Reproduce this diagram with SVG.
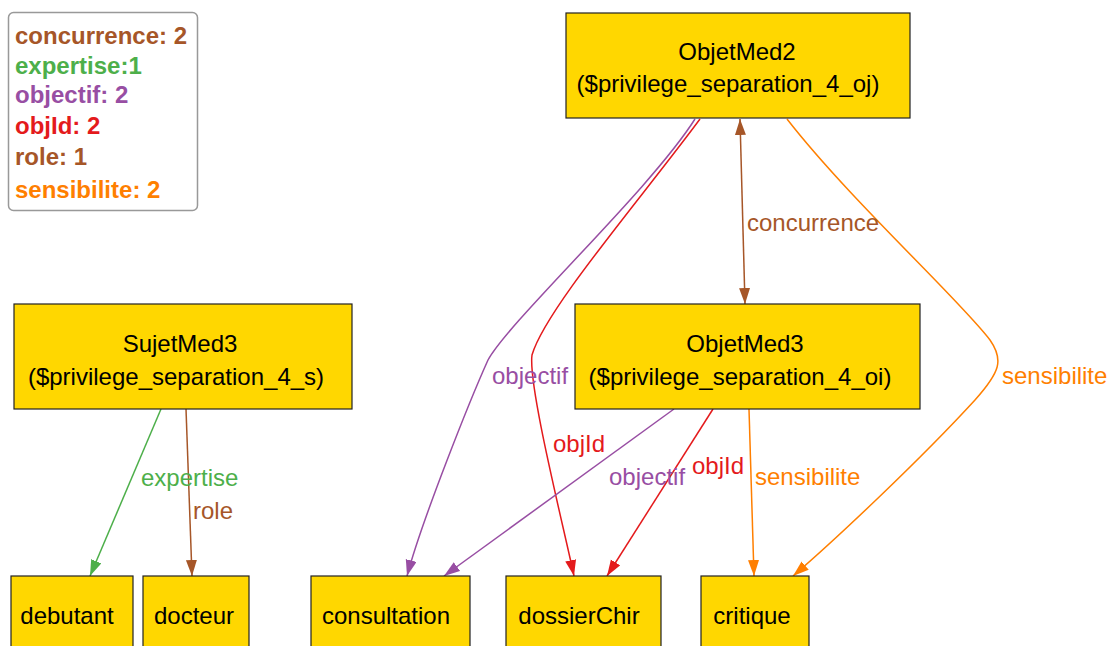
<svg xmlns="http://www.w3.org/2000/svg" width="1109" height="646" viewBox="0 0 1109 646">
<style>
text{font-family:"Liberation Sans",Arial,sans-serif}
.node rect{fill:#ffd700;stroke:#222;stroke-width:1.2}
.node text{font-size:24px;fill:#000;text-anchor:middle}
.lg{font-size:24px;font-weight:bold}
.el{font-size:24px}
.e{fill:none;stroke-width:1.5}
.br{stroke:#a65628}.gr{stroke:#4daf4a}.pu{stroke:#984ea3}.rd{stroke:#e41a1c}.or{stroke:#ff7f00}
.tbr{fill:#a65628}.tgr{fill:#4daf4a}.tpu{fill:#984ea3}.trd{fill:#e41a1c}.tor{fill:#ff7f00}
</style>
<defs>
<marker id="aBr" markerUnits="userSpaceOnUse" markerWidth="18" markerHeight="12" refX="16" refY="5.5" orient="auto-start-reverse"><path d="M0,0 L16,5.5 L0,11 z" fill="#a65628"/></marker>
<marker id="aGr" markerUnits="userSpaceOnUse" markerWidth="18" markerHeight="12" refX="16" refY="5.5" orient="auto"><path d="M0,0 L16,5.5 L0,11 z" fill="#4daf4a"/></marker>
<marker id="aPu" markerUnits="userSpaceOnUse" markerWidth="18" markerHeight="12" refX="16" refY="5.5" orient="auto"><path d="M0,0 L16,5.5 L0,11 z" fill="#984ea3"/></marker>
<marker id="aRd" markerUnits="userSpaceOnUse" markerWidth="18" markerHeight="12" refX="16" refY="5.5" orient="auto"><path d="M0,0 L16,5.5 L0,11 z" fill="#e41a1c"/></marker>
<marker id="aOr" markerUnits="userSpaceOnUse" markerWidth="18" markerHeight="12" refX="16" refY="5.5" orient="auto"><path d="M0,0 L16,5.5 L0,11 z" fill="#ff7f00"/></marker>
</defs>
<rect width="1109" height="646" fill="#fff"/>

<g id="legend">
<rect x="8.5" y="12.5" width="189" height="198" rx="5" fill="#fff" stroke="#999" stroke-width="1.5"/>
<text class="lg tbr" x="15" y="44">concurrence: 2</text>
<text class="lg tgr" x="15" y="74">expertise:1</text>
<text class="lg tpu" x="15" y="103">objectif: 2</text>
<text class="lg trd" x="15" y="134">objId: 2</text>
<text class="lg tbr" x="15" y="165">role: 1</text>
<text class="lg tor" x="15" y="198">sensibilite: 2</text>
</g>

<g id="connectors">
<path class="e gr" marker-end="url(#aGr)" d="M161,409 L90,576"/>
<path class="e br" marker-end="url(#aBr)" d="M186,409 L192,576"/>
<path class="e br" marker-start="url(#aBr)" marker-end="url(#aBr)" d="M740,119 L745,304"/>
<path class="e pu" marker-end="url(#aPu)" d="M695,119 C650,190 510,320 488,360 C470,400 422,520 407,576"/>
<path class="e rd" marker-end="url(#aRd)" d="M700,119 C640,200 545,310 532,355 C528,385 562,520 574,576"/>
<path class="e or" marker-end="url(#aOr)" d="M787,119 C850,200 960,300 990,340 C1004,360 1000,372 975,400 C920,460 835,540 793,576"/>
<path class="e pu" marker-end="url(#aPu)" d="M674,409 L444,576"/>
<path class="e rd" marker-end="url(#aRd)" d="M713,409 L607,576"/>
<path class="e or" marker-end="url(#aOr)" d="M749,409 L754,576"/>
<text class="el tgr" x="141" y="486">expertise</text>
<text class="el tbr" x="193" y="519">role</text>
<text class="el tbr" x="747" y="231">concurrence</text>
<text class="el tpu" x="492" y="384">objectif</text>
<text class="el trd" x="553" y="452">objId</text>
<text class="el tor" x="1002" y="384">sensibilite</text>
<text class="el tpu" x="609" y="485">objectif</text>
<text class="el trd" x="692" y="474">objId</text>
<text class="el tor" x="755" y="485">sensibilite</text>
</g>

<g id="ObjetMed2" class="node">
<rect x="566" y="13" width="344" height="105"/>
<text x="737" y="60">ObjetMed2</text>
<text x="728" y="92">($privilege_separation_4_oj)</text>
</g>
<g id="ObjetMed3" class="node">
<rect x="575" y="304" width="345" height="105"/>
<text x="745" y="352">ObjetMed3</text>
<text x="740" y="385">($privilege_separation_4_oi)</text>
</g>
<g id="SujetMed3" class="node">
<rect x="14" y="304" width="338" height="105"/>
<text x="180" y="352">SujetMed3</text>
<text x="176" y="385">($privilege_separation_4_s)</text>
</g>
<g id="debutant" class="node">
<rect x="11" y="576" width="122" height="80"/>
<text x="67" y="624">debutant</text>
</g>
<g id="docteur" class="node">
<rect x="143" y="576" width="106" height="80"/>
<text x="194" y="624">docteur</text>
</g>
<g id="consultation" class="node">
<rect x="311" y="576" width="159" height="80"/>
<text x="386" y="624">consultation</text>
</g>
<g id="dossierChir" class="node">
<rect x="506" y="576" width="155" height="80"/>
<text x="579" y="624">dossierChir</text>
</g>
<g id="critique" class="node">
<rect x="701" y="576" width="108" height="80"/>
<text x="752" y="624">critique</text>
</g>
</svg>
